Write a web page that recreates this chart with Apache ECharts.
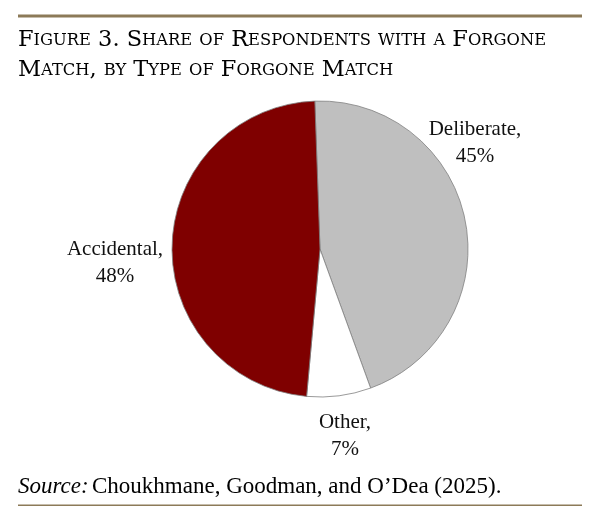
<!DOCTYPE html>
<html>
<head>
<meta charset="utf-8">
<script src="https://cdn.jsdelivr.net/npm/echarts@6/dist/echarts.min.js"></script>
<style>
  html, body { margin: 0; padding: 0; background: #fff; }
  #chart { width: 600px; height: 517px; }
</style>
</head>
<body>
<div id="chart"></div>
<script>
// data
const categories = ['Deliberate', 'Other', 'Accidental'];
const shares = [45, 7, 48];
const sliceColors = ['#bfbfbf', '#ffffff', '#7f0000'];
// label centres (px), one per slice
const labelPos = [[475, 143], [345, 436], [115, 263]];

const titleLines = [
  'Figure 3. Share of Respondents with a Forgone',
  'Match, by Type of Forgone Match'
];
const gold = '#8c7a58';
const serif = '"Liberation Serif", "DejaVu Serif", serif';
const titleFont = '"DejaVu Serif", "Liberation Serif", serif';

// turn a string into small caps using rich text (big / small segments)
function smallCaps(str) {
  let out = '';
  let cur = null, buf = '';
  for (const ch of str) {
    const isLower = ch !== ch.toUpperCase();
    const kind = isLower ? 's' : 'b';
    if (kind !== cur && buf) { out += '{' + cur + '|' + buf + '}'; buf = ''; }
    cur = kind;
    buf += ch.toUpperCase();
  }
  if (buf) out += '{' + cur + '|' + buf + '}';
  return out;
}

const chart = echarts.init(document.getElementById('chart'), null, { renderer: 'canvas' });

const titleRich = {
  b: { fontSize: 22.5, fontFamily: titleFont, color: gold },
  s: { fontSize: 16.3, fontFamily: titleFont, color: gold }
};

chart.setOption({
  animation: false,
  backgroundColor: '#fff',
  graphic: [
    { type: 'rect', shape: { x: 18, y: 14.5, width: 564, height: 3 }, style: { fill: gold } },
    { type: 'text', left: 18, top: 29, style: { text: smallCaps(titleLines[0]), rich: titleRich } },
    { type: 'text', left: 18, top: 59, style: { text: smallCaps(titleLines[1]), rich: titleRich } },
    {
      type: 'text', left: 18, top: 475,
      style: {
        text: '{i|Source:} {n|Choukhmane, Goodman, and O\u2019Dea (2025).}',
        rich: {
          i: { fontSize: 23, fontFamily: serif, fontStyle: 'italic', color: '#111' },
          n: { fontSize: 23, fontFamily: serif, color: '#111' }
        }
      }
    },
    { type: 'rect', shape: { x: 18, y: 504.5, width: 564, height: 1.5 }, style: { fill: gold } }
  ],
  series: [
    {
      type: 'pie',
      center: [320, 249],
      radius: [0, 148],
      startAngle: 92,
      clockwise: true,
      avoidLabelOverlap: false,
      silent: true,
      itemStyle: { borderColor: '#808080', borderWidth: 0.8 },
      label: {
        show: true,
        position: 'outside',
        formatter: p => p.name + ',\n' + p.value + '%',
        fontFamily: serif,
        fontSize: 21,
        lineHeight: 27,
        color: '#111',
        align: 'center'
      },
      labelLine: { show: false },
      labelLayout: params => ({
        x: labelPos[params.dataIndex][0],
        y: labelPos[params.dataIndex][1],
        align: 'center',
        verticalAlign: 'middle'
      }),
      emphasis: { disabled: true },
      data: categories.map((c, i) => ({
        name: c,
        value: shares[i],
        itemStyle: { color: sliceColors[i] }
      }))
    }
  ]
});
</script>
</body>
</html>
